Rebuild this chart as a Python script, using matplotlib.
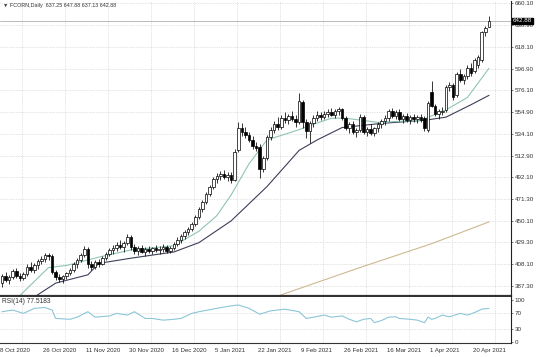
import matplotlib
matplotlib.use('Agg')
import matplotlib.pyplot as plt

# ---------------- data ----------------
opens = [390,397,393,396,402,397,395,399,406,403,407,411,413,417,416,401,396,394,397,400,
         403,408,412,417,423,408,406,410,408,414,418,422,424,427,425,429,434,425,421,424,
         420,423,421,424,422,423,425,421,424,428,432,435,439,442,447,454,461,468,476,483,
         490,493,495,492,494,489,518,540,536,533,528,522,521,500,511,531,538,543,541,549,
         547,551,548,545,565,545,537,544,549,552,550,553,555,552,556,558,549,540,543,536,
         538,550,536,539,535,540,543,546,549,556,551,555,548,551,547,550,548,550,549,538,
         574,561,553,555,557,579,581,571,592,586,590,597,595,600,605,632,637.25]
highs = [399,401,398,404,405,400,401,408,410,409,413,416,419,419,418,403,399,398,401,405,
         410,414,419,426,425,411,412,413,416,420,424,427,430,432,431,437,436,428,426,427,
         425,426,425,427,426,428,427,426,430,434,437,441,444,449,456,463,470,478,485,492,
         496,498,499,497,497,519,545,544,541,536,532,526,524,513,533,541,546,550,552,555,
         553,556,552,573,567,548,546,552,556,555,556,558,559,558,560,559,551,545,546,540,
         553,552,541,543,541,545,548,552,558,559,557,558,553,554,552,553,552,553,551,566,
         585,563,558,560,581,584,583,594,596,592,600,602,607,610,633,638,647.88]
lows = [386,391,389,394,395,392,393,397,401,400,404,408,410,412,399,393,391,390,394,398,
        401,405,410,415,405,403,404,406,407,412,416,418,421,423,420,427,422,418,417,419,
        416,419,418,420,418,420,419,419,422,426,429,433,436,440,445,452,459,466,474,481,
        487,489,490,488,487,488,516,532,530,526,519,517,491,497,509,528,535,538,539,544,
        543,546,541,543,540,530,525,541,546,547,548,550,551,549,552,547,538,535,534,531,
        536,534,532,533,532,536,540,542,546,549,548,546,544,545,543,545,544,545,537,536,
        560,551,548,552,555,575,567,569,584,582,587,590,593,597,603,628,637.13]
closes = [397,393,396,402,397,395,399,406,403,407,411,413,417,416,401,396,394,397,400,403,
          408,412,417,423,408,406,410,408,414,418,422,424,427,425,429,434,425,421,424,420,
          423,421,424,422,423,425,421,424,428,432,435,439,442,447,454,461,468,476,483,490,
          493,495,492,494,489,516,540,536,533,528,522,520,500,511,531,538,543,541,549,547,
          551,548,545,566,545,537,544,549,552,550,553,555,552,556,558,549,540,543,536,538,
          550,536,539,535,540,543,546,549,556,551,555,548,551,547,550,548,550,547,540,564,
          561,553,556,556,579,581,569,592,586,590,597,593,605,608,632,636,642.88]

date_labels = ['8 Oct 2020', '26 Oct 2020', '11 Nov 2020', '30 Nov 2020', '16 Dec 2020',
               '5 Jan 2021', '22 Jan 2021', '9 Feb 2021', '26 Feb 2021', '16 Mar 2021',
               '1 Apr 2021', '20 Apr 2021']
date_label_bars = [0, 12, 24, 36, 48, 60, 72, 84, 96, 108, 120, 132]

price_ticks = [660.10, 638.90, 618.10, 596.90, 576.10, 554.90, 534.10, 512.90,
               492.10, 471.30, 450.10, 429.30, 408.10, 387.30]

ma_fast_idx = [5, 13, 18, 27, 36, 48, 55, 60, 64, 69, 74, 83, 86, 92, 96, 105, 117, 124, 130, 136]
ma_fast_val = [378, 405, 407, 415, 422, 426, 440, 455, 475, 505, 528, 538, 542, 549, 549, 545, 547, 557, 569, 597]

ma_slow_idx = [7, 15, 24, 27, 36, 48, 55, 64, 74, 83, 88, 95, 106, 118, 124, 131, 136]
ma_slow_val = [372, 390, 398, 409, 414, 420, 429, 450, 483, 518, 528, 540, 544, 547, 550, 562, 571]

ma_long_idx = [77, 100, 120, 136]
ma_long_val = [377.5, 405, 428, 449]

rsi_idx = [0, 3, 6, 9, 12, 14, 15, 19, 21, 23, 24, 26, 30, 32, 35, 37, 40, 42, 45, 48, 50, 53,
           55, 60, 64, 66, 69, 72, 75, 79, 83, 85, 87, 90, 92, 95, 97, 99, 101, 103, 104, 106,
           108, 110, 111, 114, 116, 118, 119, 120, 121, 123, 125, 128, 130, 132, 134, 136]
rsi_val = [72, 76, 68, 80, 82, 76, 56, 54, 59, 68, 72, 59, 62, 68, 64, 72, 56, 56, 52, 54, 56, 68,
           72, 80, 86, 88, 80, 66, 74, 78, 72, 56, 59, 64, 59, 62, 54, 48, 54, 56, 46, 51,
           59, 60, 56, 54, 52, 46, 59, 54, 56, 64, 60, 68, 64, 70, 78, 80]

# ---------------- layout ----------------
W, H = 536, 357
def rect(x0, y0, x1, y1):
    return [x0 / W, 1 - y1 / H, (x1 - x0) / W, (y1 - y0) / H]

plt.rcParams['font.family'] = ['Liberation Sans', 'DejaVu Sans']

fig = plt.figure(figsize=(W / 100, H / 100), dpi=100)
fig.patch.set_facecolor('white')
ax = fig.add_axes(rect(0, 1, 511, 296))
rax = fig.add_axes(rect(0, 297, 511, 343))

PX = 3.58
x_lo = -2 / PX
x_hi = (511 - 2) / PX
grid_kw = dict(color='#c8c8c8', linestyle=(0, (1, 1.5)), linewidth=0.5)
txt = '#333333'
fs = 4.5

for a in (ax, rax):
    a.set_xlim(x_lo, x_hi)
    a.set_facecolor('white')
    for s in ('left', 'bottom', 'top'):
        a.spines[s].set_visible(False)
    a.spines['right'].set_color('#222222')
    a.spines['right'].set_linewidth(0.8)
    a.set_xticks([])
    for b in date_label_bars:
        a.axvline(b + 20 / PX, zorder=0, **grid_kw)

# main panel
ax.set_ylim(660.1 - 293 / 1.037, 660.1 + 2 / 1.037)
ax.yaxis.tick_right()
ax.set_yticks(price_ticks)
ax.set_yticklabels([f'{p:.2f}' for p in price_ticks], fontsize=fs, color=txt)
ax.tick_params(axis='y', length=1.5, width=0.5, pad=1.0, color='#444444')
for p in price_ticks:
    ax.axhline(p, zorder=0, **grid_kw)

# moving averages
ax.plot(ma_long_idx, ma_long_val, color='#cdb892', lw=0.8, zorder=1)
ax.plot(ma_slow_idx, ma_slow_val, color='#3c3f58', lw=0.8, zorder=1)
ax.plot(ma_fast_idx, ma_fast_val, color='#8fc4b4', lw=0.8, zorder=1)

# candles
bw = 0.72
for i, (o, h, l, c) in enumerate(zip(opens, highs, lows, closes)):
    ax.vlines(i, l, h, color='black', lw=0.55, zorder=2)
    bot, top = min(o, c), max(o, c)
    ht = max(top - bot, 0.6)
    face = 'white' if c >= o else 'black'
    ax.bar(i, ht, bottom=bot, width=bw, color=face, edgecolor='black', linewidth=0.5, zorder=3)

ax.text(0.006, 0.992, '\u25bc FCORN,Daily  637.25 647.88 637.13 642.88', transform=ax.transAxes,
        fontsize=3.9, color=txt, va='top', ha='left')

# last price tag
ax.axhline(closes[-1], color='#888888', lw=0.4, zorder=0)
ax.text(x_hi + 0.5, closes[-1], f'{closes[-1]:.2f}', fontsize=fs, color='white', va='center', ha='left',
        bbox=dict(boxstyle='square,pad=0.12', fc='black', ec='black'), clip_on=False, zorder=5)

# separator
ax.plot([0, 1], [0, 0], transform=ax.transAxes, color='#333333', lw=1.6, clip_on=False)

# RSI panel
rax.set_ylim(-2.4, 107)
rax.yaxis.tick_right()
rax.set_yticks([0, 30, 70, 100])
rax.set_yticklabels(['0', '30', '70', '100'], fontsize=fs, color=txt)
rax.tick_params(axis='y', length=1.5, width=0.5, pad=1.0, color='#444444')
for v in (30, 70):
    rax.axhline(v, zorder=0, **grid_kw)
rax.plot(rsi_idx, rsi_val, color='#8cc6d8', lw=0.8)
rax.text(0.004, 0.97, 'RSI(14) 77.5183', transform=rax.transAxes, fontsize=4.8, color=txt,
         va='top', ha='left')
rax.plot([0, 1], [0, 0], transform=rax.transAxes, color='#333333', lw=0.8, clip_on=False)

for b, lab in zip(date_label_bars, date_labels):
    rax.text(b - 2 / PX, -0.1, lab, transform=rax.get_xaxis_transform(), fontsize=4.4, color=txt,
             ha='left', va='top', clip_on=False)

fig.savefig('out.png', dpi=100)
